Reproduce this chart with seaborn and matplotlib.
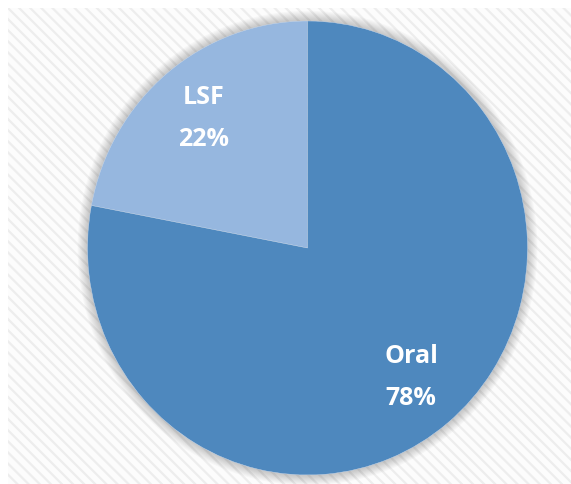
import matplotlib

matplotlib.use("Agg")
import matplotlib.pyplot as plt
from matplotlib.patches import Ellipse, Rectangle
import seaborn as sns

# data
categories = ["LSF", "Oral"]
shares = [22, 78]
slice_colors = ["#96B7DF", "#4E88BE"]

sns.set_theme(style="white")
plt.rcParams["font.family"] = ["Open Sans", "DejaVu Sans"]
plt.rcParams["hatch.linewidth"] = 1.6

W, H = 571, 484
fig = plt.figure(figsize=(W / 100, H / 100), dpi=100)
fig.patch.set_facecolor("white")

# striped backdrop panel (Excel-like chart area)
panel = Rectangle(
    (8 / W, 0), 1 - 8 / W, 1 - 8 / H,
    transform=fig.transFigure,
    facecolor="#FCFCFC",
    edgecolor="#EDEDED",
    linewidth=0,
    hatch="\\\\\\",
    zorder=0,
)
fig.add_artist(panel)

# axes sized so the (slightly stretched) pie fills it
cx, cy = 307.5, 484 - 248
rx, ry = 220, 227
ax = fig.add_axes([(cx - rx) / W, (cy - ry) / H, 2 * rx / W, 2 * ry / H])
ax.patch.set_alpha(0)

# soft outer shadow
for k in range(1, 10):
    ax.add_patch(Ellipse((0, 0), 2 * (1 + 0.005 * k), 2 * (1 + 0.005 * k),
                         facecolor="black", alpha=0.022, linewidth=0,
                         clip_on=False, zorder=0))

labels = [f"{c}\n{v}%" for c, v in zip(categories, shares)]
wedges, texts = ax.pie(
    shares,
    labels=labels,
    colors=slice_colors,
    startangle=90,
    counterclock=True,
    labeldistance=0.74,
    wedgeprops=dict(edgecolor="#C8D8EC", linewidth=0.3),
    textprops=dict(color="white", fontsize=18, fontweight="bold", linespacing=1.85),
)
for w in wedges:
    w.set_zorder(2)
for t in texts:
    t.set_ha("center")
    t.set_multialignment("center")
    t.set_zorder(3)

ax.set_aspect("auto")
ax.set_xlim(-1, 1)
ax.set_ylim(-1, 1)
ax.axis("off")

fig.savefig("out.png", dpi=100)
plt.close(fig)
